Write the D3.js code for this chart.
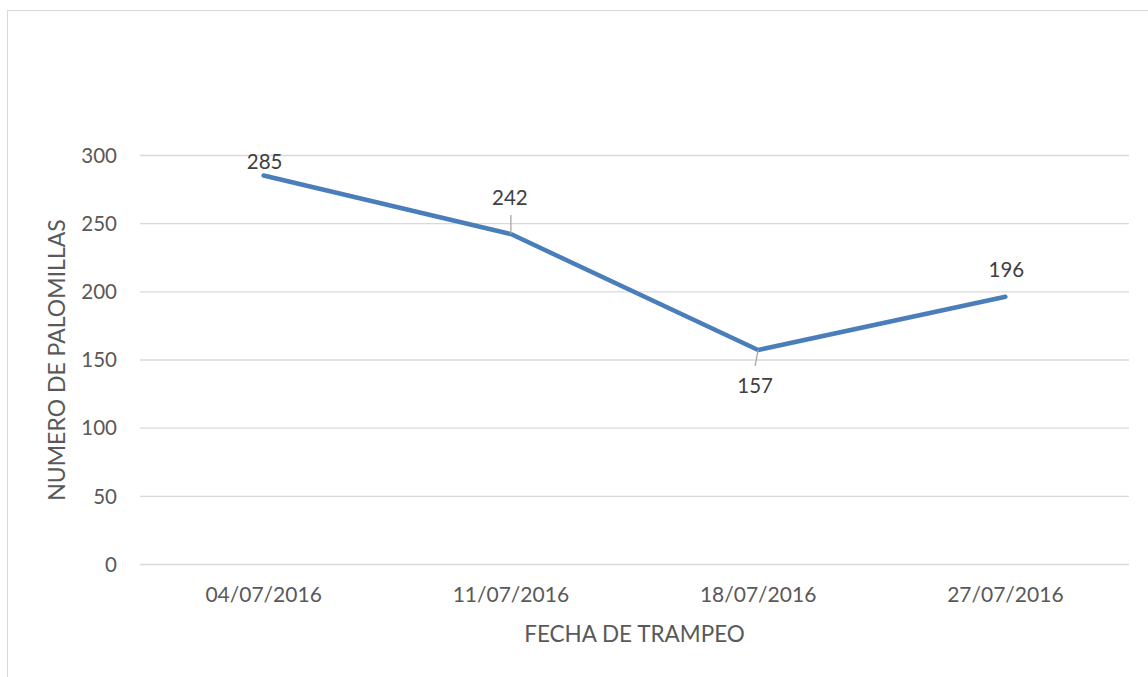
<!DOCTYPE html>
<html>
<head>
<meta charset="utf-8">
<script src="https://cdn.jsdelivr.net/npm/d3@7"></script>
<style>
  body { margin: 0; background: #fff; }
  text { font-family: Lato, "Open Sans", sans-serif; fill: #595959; }
</style>
</head>
<body>
<div id="chart"></div>
<script>
// data
let fechas = ['04/07/2016', '11/07/2016', '18/07/2016', '27/07/2016']
let palomillas = [285, 242, 157, 196]
let yTicks = [0, 50, 100, 150, 200, 250, 300]

let W = 1148, H = 677
let margin = {top: 155, right: 19, bottom: 113, left: 140}
let width = W - margin.left - margin.right
let height = H - margin.top - margin.bottom

let svg = d3.select('div#chart')
  .append('svg')
    .attr('width', W)
    .attr('height', H)

// chart border
svg.append('rect')
  .attr('x', 7.5).attr('y', 10.5)
  .attr('width', W + 10).attr('height', H + 10)
  .attr('fill', 'none')
  .attr('stroke', '#d9d9d9')
  .attr('stroke-width', 1)

let g = svg.append('g')
  .attr('transform', `translate(${margin.left}, ${margin.top})`)

let x = d3.scaleBand().domain(fechas).range([0, width])
let y = d3.scaleLinear().domain([0, 300]).range([height, 0])

// gridlines + y tick labels
let yAxis = g.append('g')
  .call(d3.axisLeft(y).tickValues(yTicks).tickSize(-width).tickPadding(23))
yAxis.select('.domain').remove()
yAxis.selectAll('.tick line').attr('stroke', '#d9d9d9').attr('stroke-width', 1.3)
yAxis.selectAll('.tick text')
  .attr('x', -23)
  .style('font-size', '20.5px')
  .style('fill', '#595959')
  .attr('dy', '0.35em')

// x tick labels
let xAxis = g.append('g')
  .attr('transform', `translate(0, ${height})`)
  .call(d3.axisBottom(x).tickSize(0).tickPadding(0))
xAxis.select('.domain').remove()
xAxis.selectAll('.tick text')
  .attr('y', 38)
  .attr('dy', 0)
  .style('font-size', '21px')
  .style('fill', '#595959')

let cx = d => x(d) + x.bandwidth() / 2

// the line
let line = d3.line()
  .x((d, i) => cx(fechas[i]))
  .y(d => y(d))

g.append('path')
  .datum(palomillas)
  .attr('d', line)
  .attr('fill', 'none')
  .attr('stroke', '#4a7ebb')
  .attr('stroke-width', 4.5)
  .attr('stroke-linecap', 'round')
  .attr('stroke-linejoin', 'round')

// leader lines for the labels that were pushed off the point
g.append('line')
  .attr('x1', cx(fechas[1])).attr('x2', cx(fechas[1]))
  .attr('y1', y(palomillas[1]) - 19).attr('y2', y(palomillas[1]))
  .attr('stroke', '#a6a6a6').attr('stroke-width', 1.3)
g.append('line')
  .attr('x1', cx(fechas[2])).attr('x2', cx(fechas[2]) - 3)
  .attr('y1', y(palomillas[2])).attr('y2', y(palomillas[2]) + 16)
  .attr('stroke', '#a6a6a6').attr('stroke-width', 1.3)

// data labels
let labelDx = [1, -1, -3, 1]
let labelDy = [-6, -29, 43, -20]
g.selectAll('text.val')
  .data(palomillas)
  .enter().append('text')
  .attr('class', 'val')
  .attr('x', (d, i) => cx(fechas[i]) + labelDx[i])
  .attr('y', (d, i) => y(d) + labelDy[i])
  .attr('text-anchor', 'middle')
  .style('font-size', '20.5px')
  .style('fill', '#404040')
  .text(d => d)

// axis titles
svg.append('text')
  .attr('x', margin.left + width / 2)
  .attr('y', 642)
  .attr('text-anchor', 'middle')
  .style('font-size', '22.5px')
  .text('FECHA DE TRAMPEO')

svg.append('text')
  .attr('transform', `translate(65, 360) rotate(-90)`)
  .attr('text-anchor', 'middle')
  .style('font-size', '23px')
  .text('NUMERO DE PALOMILLAS')
</script>
</body>
</html>
